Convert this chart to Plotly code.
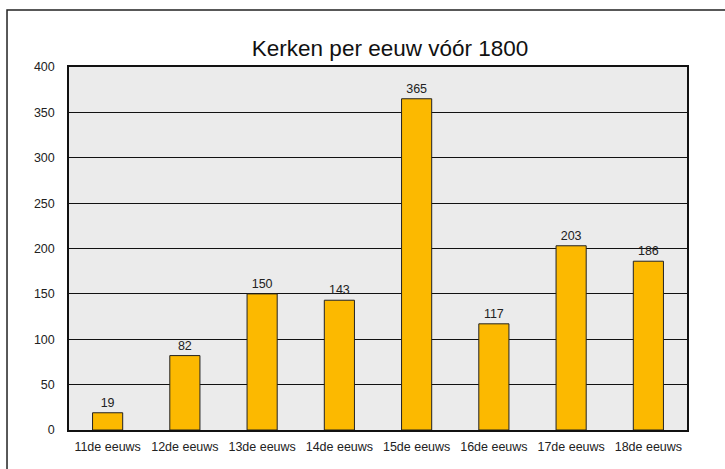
import plotly.graph_objects as go

categories = ['11de eeuws', '12de eeuws', '13de eeuws', '14de eeuws',
              '15de eeuws', '16de eeuws', '17de eeuws', '18de eeuws']
churches = [19, 82, 150, 143, 365, 117, 203, 186]
y_ticks = [0, 50, 100, 150, 200, 250, 300, 350, 400]

FONT = 'Arial, Liberation Sans, sans-serif'
TXT = '#222222'

fig = go.Figure()

fig.add_trace(go.Bar(
    x=categories,
    y=churches,
    text=churches,
    textposition='outside',
    cliponaxis=False,
    textfont=dict(family=FONT, size=12.5, color=TXT),
    marker=dict(color='#FCB900', line=dict(color='#222222', width=1)),
))

# outer frame of the chart (runs past the right/bottom edge)
fig.add_shape(type='rect', xref='paper', yref='paper',
              x0=-0.1003, x1=1.08, y0=-0.15, y1=1.157,
              line=dict(color='#222222', width=1.5), layer='below')

fig.update_layout(
    width=725, height=469,
    margin=dict(l=69, r=38, t=67, b=39),
    paper_bgcolor='white',
    plot_bgcolor='#EBEBEB',
    bargap=0.61,
    showlegend=False,
    font=dict(family=FONT, size=12.5, color=TXT),
    title=dict(text='Kerken per eeuw vóór 1800', x=0.538, xanchor='center',
               y=1 - 48 / 469, yanchor='middle',
               font=dict(family=FONT, size=22.5, color='#111111')),
)

fig.update_xaxes(showline=True, mirror=True, linewidth=1.5, linecolor='#111111',
                 ticks='', showgrid=False, ticklabelstandoff=4,
                 tickfont=dict(family=FONT, size=12.5, color=TXT))
fig.update_yaxes(range=[0, 400], tickvals=y_ticks, showline=True, mirror=True,
                 linewidth=1.5, linecolor='#111111', showgrid=True,
                 gridcolor='#111111', gridwidth=1, zeroline=False,
                 ticks='', ticklabelstandoff=10,
                 tickfont=dict(family=FONT, size=12.5, color=TXT))

fig.write_html('out.html', config={'displayModeBar': False},
               post_script="document.body.style.margin='0';")
